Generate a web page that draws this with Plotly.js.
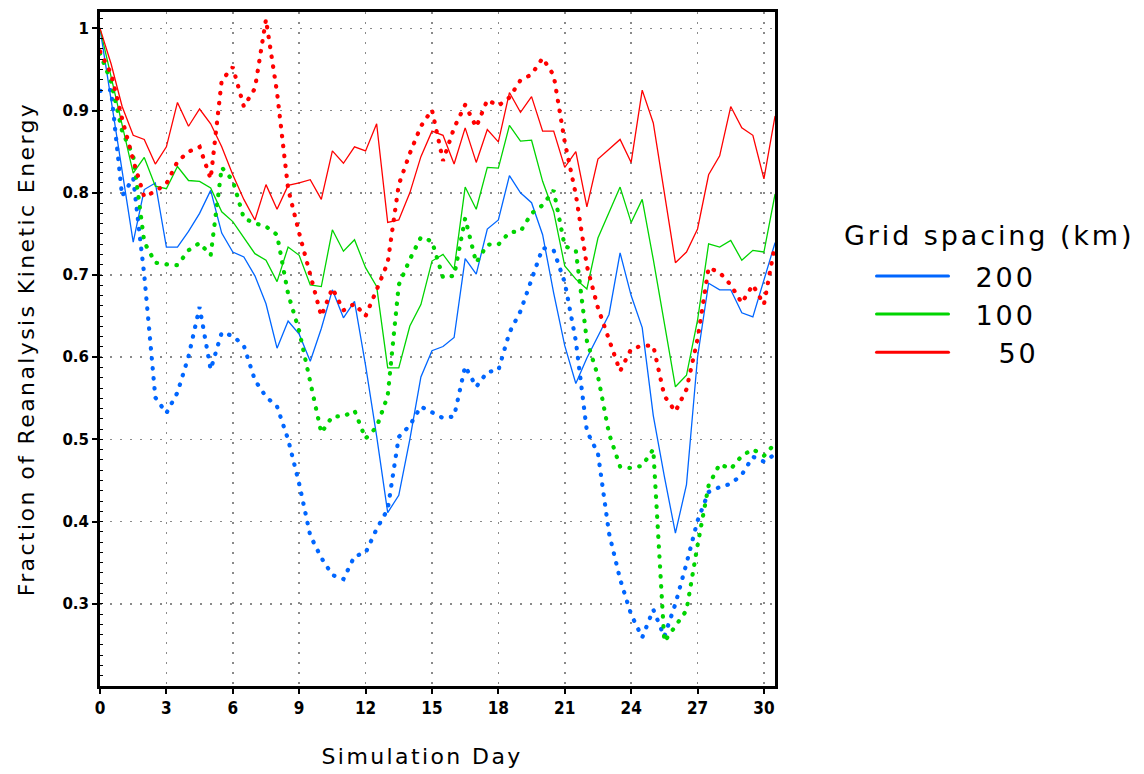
<!DOCTYPE html>
<html><head><meta charset="utf-8">
<script src="https://cdn.plot.ly/plotly-3.0.1.min.js"></script>
<style>
html,body{margin:0;padding:0;background:#fff;}
#chart{width:1144px;height:774px;}
.js-line{stroke-linecap:round;}
.ytitle,.xtitle{letter-spacing:2.4px;}
.annotation-text{letter-spacing:2.9px;}
.annotation[data-index="1"] .annotation-text{letter-spacing:2.4px;}
.legendtext{letter-spacing:2.9px;}
.legend .js-line{stroke-width:3px !important;}
</style>
</head><body><div id="chart"></div>
<script>
const days = [0,0.5,1,1.5,2,2.5,3,3.5,4,4.5,5,5.5,6,6.5,7,7.5,8,8.5,9,9.5,10,10.5,11,11.5,12,12.5,13,13.5,14,14.5,15,15.5,16,16.5,17,17.5,18,18.5,19,19.5,20,20.5,21,21.5,22,22.5,23,23.5,24,24.5,25,25.5,26,26.5,27,27.5,28,28.5,29,29.5,30,30.5];

const solid200 = [1.0,0.913,0.827,0.740,0.804,0.812,0.734,0.734,0.753,0.775,0.803,0.751,0.728,0.722,0.699,0.665,0.611,0.644,0.628,0.595,0.635,0.682,0.648,0.668,0.590,0.504,0.411,0.432,0.500,0.576,0.608,0.613,0.624,0.720,0.701,0.756,0.767,0.821,0.800,0.788,0.749,0.678,0.614,0.568,0.599,0.625,0.652,0.727,0.675,0.636,0.529,0.455,0.386,0.445,0.600,0.690,0.682,0.682,0.654,0.649,0.695,0.739];
const solid100 = [1.0,0.940,0.880,0.824,0.843,0.808,0.805,0.832,0.815,0.814,0.806,0.777,0.765,0.745,0.726,0.718,0.692,0.734,0.724,0.688,0.686,0.755,0.729,0.743,0.709,0.686,0.587,0.587,0.638,0.664,0.717,0.725,0.707,0.807,0.780,0.831,0.830,0.882,0.863,0.864,0.814,0.777,0.711,0.695,0.683,0.745,0.775,0.807,0.764,0.792,0.719,0.644,0.564,0.578,0.645,0.738,0.734,0.742,0.718,0.730,0.728,0.798];
const solid50 = [1.0,0.957,0.905,0.870,0.865,0.835,0.856,0.910,0.881,0.902,0.884,0.856,0.822,0.792,0.767,0.810,0.780,0.809,0.812,0.816,0.792,0.851,0.836,0.856,0.851,0.884,0.764,0.767,0.800,0.844,0.875,0.870,0.835,0.879,0.837,0.877,0.862,0.922,0.898,0.917,0.875,0.875,0.831,0.850,0.783,0.841,0.853,0.865,0.837,0.925,0.885,0.800,0.715,0.728,0.756,0.822,0.845,0.905,0.879,0.870,0.817,0.893];

const dotted200 = [0.924,0.925,0.796,0.818,0.700,0.551,0.532,0.557,0.601,0.661,0.585,0.630,0.626,0.614,0.572,0.552,0.540,0.500,0.446,0.383,0.356,0.335,0.330,0.358,0.362,0.391,0.415,0.503,0.517,0.540,0.533,0.526,0.528,0.589,0.564,0.582,0.584,0.630,0.656,0.695,0.733,0.730,0.691,0.620,0.510,0.483,0.386,0.330,0.287,0.259,0.293,0.260,0.300,0.349,0.401,0.436,0.442,0.446,0.457,0.479,0.473,0.482];
const dotted100 = [0.970,0.935,0.875,0.845,0.740,0.715,0.713,0.712,0.730,0.739,0.724,0.831,0.815,0.769,0.763,0.759,0.749,0.677,0.632,0.569,0.508,0.528,0.528,0.535,0.501,0.515,0.553,0.688,0.719,0.746,0.741,0.697,0.699,0.769,0.715,0.737,0.737,0.752,0.753,0.775,0.785,0.803,0.735,0.730,0.620,0.577,0.507,0.467,0.465,0.468,0.488,0.254,0.272,0.292,0.371,0.444,0.470,0.464,0.480,0.488,0.480,0.495];
const dotted50 = [0.972,0.945,0.890,0.840,0.795,0.802,0.811,0.838,0.850,0.856,0.817,0.937,0.953,0.905,0.927,1.011,0.922,0.805,0.751,0.699,0.650,0.684,0.657,0.665,0.650,0.682,0.715,0.810,0.848,0.881,0.901,0.839,0.879,0.907,0.880,0.913,0.906,0.916,0.937,0.944,0.964,0.943,0.862,0.798,0.711,0.660,0.620,0.583,0.610,0.614,0.614,0.553,0.534,0.561,0.622,0.709,0.703,0.688,0.666,0.688,0.664,0.737];

const seriesNames = ['\u2002\u200a200','\u2002\u200a100','\u2002\u200a\u00a0\u00a050'];
const seriesColors = ['#0066ff','#00d400','#ff0000'];
const xTickVals = [0,3,6,9,12,15,18,21,24,27,30];
const xTickText = ['0','3','6','9','12','15','18','21','24','27','30'];
const yTickVals = [0.3,0.4,0.5,0.6,0.7,0.8,0.9,1.0];
const yTickText = ['0.3','0.4','0.5','0.6','0.7','0.8','0.9','1'];

const solids = [solid200, solid100, solid50];
const dotteds = [dotted200, dotted100, dotted50];
const traces = [];
solids.forEach((s,i)=>traces.push({x:days,y:s,type:'scatter',mode:'lines',name:seriesNames[i],
  line:{color:seriesColors[i],width:1.3},hoverinfo:'skip'}));
dotteds.forEach((s,i)=>traces.push({x:days,y:s,type:'scatter',mode:'lines',showlegend:false,
  line:{color:seriesColors[i],width:4.2,dash:'0.5px,9.5px'},hoverinfo:'skip'}));

const axisCommon = {
  showline:true, linewidth:3, linecolor:'#000', mirror:true,
  ticks:'outside', ticklen:5, tickwidth:2, tickcolor:'#000',
  showgrid:true, gridcolor:'#8a8a8a', gridwidth:1.5, griddash:'2px,8px',
  zeroline:false, fixedrange:true
};

const layout = {
  width:1144, height:774,
  margin:{l:100, r:369, t:12, b:88},
  paper_bgcolor:'#fff', plot_bgcolor:'#fff',
  showlegend:true,
  legend:{x:1.143, y:0.644, xanchor:'left', yanchor:'top', xref:'paper', yref:'paper',
    font:{family:'DejaVu Sans', size:27, color:'#000'}, itemwidth:72, bgcolor:'rgba(0,0,0,0)',
    traceorder:'normal'},
  annotations:[
    {text:'Grid spacing (km)', xref:'paper', yref:'paper', x:1.0993, y:0.669,
      xanchor:'left', yanchor:'middle', showarrow:false,
      font:{family:'DejaVu Sans', size:27, color:'#000'}},
    {text:'Simulation Day', xref:'paper', yref:'paper', x:0.477, y:-0.1053,
      xanchor:'center', yanchor:'middle', showarrow:false,
      font:{family:'DejaVu Sans', size:22, color:'#000'}}
  ],
  xaxis:Object.assign({}, axisCommon, {
    range:[0,30.5], tickmode:'array', tickvals:xTickVals, ticktext:xTickText,
    tickfont:{family:'Liberation Sans Narrow, DejaVu Sans Condensed, sans-serif', size:17, weight:'bold', color:'#000'}
  }),
  yaxis:Object.assign({}, axisCommon, {
    range:[0.2,1.02], tickmode:'array', tickvals:yTickVals, ticktext:yTickText,
    tickfont:{family:'DejaVu Sans', size:15, weight:'bold', color:'#000'},
    minor:{dtick:0.0125, ticks:'inside', ticklen:3, tickwidth:1, tickcolor:'#000', showgrid:false},
    title:{text:'Fraction of Reanalysis Kinetic Energy', font:{family:'DejaVu Sans', size:22, color:'#000'}, standoff:22}
  })
};

Plotly.newPlot('chart', traces, layout, {staticPlot:true, displayModeBar:false});
</script>
</body></html>
